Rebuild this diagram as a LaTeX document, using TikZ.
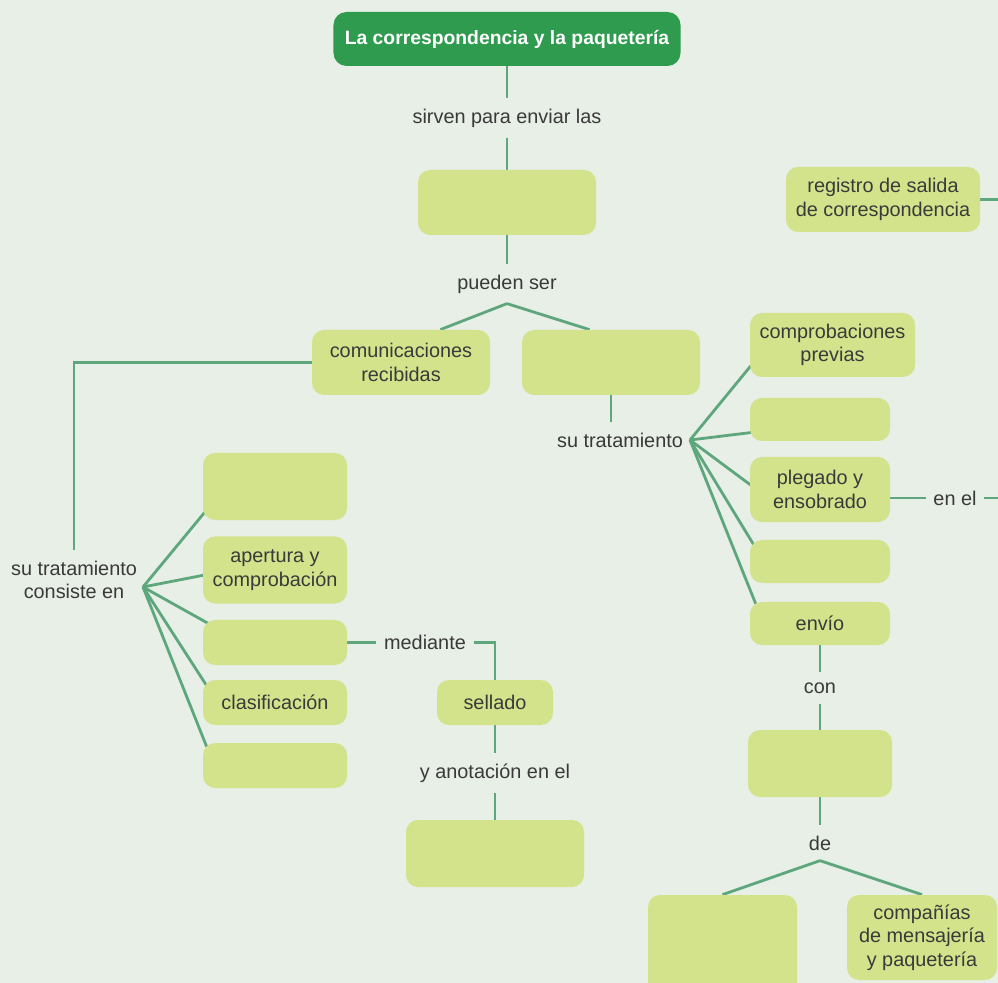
\documentclass[tikz,border=0pt]{standalone}
\usepackage{fontspec}
\setmainfont{Liberation Sans}
\usetikzlibrary{calc}

\definecolor{fondo}{HTML}{E8EFE6}
\definecolor{verdetitulo}{HTML}{2E9B4E}
\definecolor{verdecaja}{HTML}{D3E38B}
\definecolor{verdelinea}{HTML}{5EA67C}
\definecolor{gristexto}{HTML}{3A3A3A}

\pgfdeclarelayer{capafondo}
\pgfdeclarelayer{capalineas}
\pgfsetlayers{capafondo,capalineas,main}

\tikzset{
	caja/.style={fill=verdecaja, rounded corners=2.4mm, align=center, inner sep=0pt, text=gristexto, font=\fontsize{11.3}{13.5}\selectfont},
	titulo/.style={fill=verdetitulo, rounded corners=2.6mm, text=white, inner sep=0pt, font=\fontsize{11}{13}\selectfont\bfseries, minimum width=69.4mm, minimum height=10.8mm},
	etiqueta/.style={text=gristexto, align=center, inner xsep=1.5mm, inner ysep=2mm, font=\fontsize{11.3}{13.5}\selectfont},
	enlace/.style={draw=verdelinea, line width=1.6pt}
}

\begin{document}
\begin{tikzpicture}[x=0.2mm,y=-0.2mm]
		\useasboundingbox (0,0) rectangle (998,983);
		\begin{pgfonlayer}{capafondo}
			\fill[fondo] (0,0) rectangle (998,983);
		\end{pgfonlayer}
		\clip (0,0) rectangle (998,983);
		\coordinate (bordeder) at (998,0);

		% titulo y primer nivel
		\node[titulo] (tit) at (507,39) {La correspondencia y la paquetería};
		\node[etiqueta] (sirven) at (507,118) {sirven para enviar las};
		\node[caja, minimum width=35.6mm, minimum height=13mm] (comun) at (507,202.5) {};
		\node[etiqueta] (pueden) at (507,284) {pueden ser};
		\node[caja, minimum width=35.6mm, minimum height=13mm] (recib) at (401,362.5) {comunicaciones\\recibidas};
		\node[caja, minimum width=35.6mm, minimum height=13mm] (emit) at (611,362.5) {};
		\node[caja, minimum width=38.8mm, minimum height=13mm] (reg) at (883,199.5) {registro de salida\\de correspondencia};

		% rama izquierda
		\node[etiqueta, inner xsep=0pt] (tratizq) at (74,580) {su tratamiento\\consiste en};
		\coordinate (abizq) at (143,587);
		\node[caja, minimum width=28.8mm, minimum height=13.4mm] (iz1) at (275,486.5) {};
		\node[caja, minimum width=28.8mm, minimum height=13.4mm] (iz2) at (275,570) {apertura y\\comprobación};
		\node[caja, minimum width=28.8mm, minimum height=9mm] (iz3) at (275,642.5) {};
		\node[caja, minimum width=28.8mm, minimum height=9mm] (iz4) at (275,702.5) {clasificación};
		\node[caja, minimum width=28.8mm, minimum height=9mm] (iz5) at (275,765.5) {};
		\node[etiqueta] (mediante) at (425,642.5) {mediante};
		\node[caja, minimum width=23.2mm, minimum height=9mm] (sellado) at (495,702.5) {sellado};
		\node[etiqueta] (anot) at (495,773) {y anotación en el};
		\node[caja, minimum width=35.6mm, minimum height=13.4mm] (libro) at (495,853.5) {};

		% rama derecha
		\node[etiqueta, inner xsep=0pt] (tratder) at (620,440) {su tratamiento};
		\coordinate (abder) at (690,440);
		\node[caja, minimum width=33mm, minimum height=12.8mm] (de1) at (832.5,345) {comprobaciones\\previas};
		\node[caja, minimum width=28mm, minimum height=8.6mm] (de2) at (820,419.5) {};
		\node[caja, minimum width=28mm, minimum height=13mm] (de3) at (820,489.5) {plegado y\\ensobrado};
		\node[caja, minimum width=28mm, minimum height=8.6mm] (de4) at (820,561.5) {};
		\node[caja, minimum width=28mm, minimum height=8.6mm] (de5) at (820,623.5) {envío};
		\node[etiqueta] (enel) at (955,498) {en el};
		\node[etiqueta] (con) at (820,688) {con};
		\node[caja, minimum width=28.8mm, minimum height=13.4mm] (medios) at (820,763.5) {};
		\node[etiqueta] (de) at (820,843) {de};
		\node[caja, minimum width=29.8mm, minimum height=20mm] (correos) at (722.5,945) {};
		\node[caja, minimum width=30mm, minimum height=17mm] (compan) at (922,937.5) {compañías\\de mensajería\\y paquetería};

		\begin{pgfonlayer}{capalineas}
			\draw[enlace] (tit.south) -- (sirven.north);
			\draw[enlace] (sirven.south) -- (comun.north);
			\draw[enlace] (comun.south) -- (pueden.north);
			\draw[enlace] (pueden.south) -- ($(recib.north west)!0.72!(recib.north east)$);
			\draw[enlace] (pueden.south) -- ($(emit.north west)!0.38!(emit.north east)$);
			\draw[enlace] (reg.east) -- (reg.east -| bordeder);

			\draw[enlace] (recib.west) -| (tratizq.north);
			\draw[enlace] (abizq) -- ($(iz1.south west)+(2,-8)$);
			\draw[enlace] (abizq) -- ($(iz2.west)+(2,5)$);
			\draw[enlace] (abizq) -- ($(iz3.north west)+(6,4)$);
			\draw[enlace] (abizq) -- ($(iz4.north west)+(4,6)$);
			\draw[enlace] (abizq) -- ($(iz5.north west)+(4,4)$);
			\draw[enlace] (iz3.east) -- (mediante.west);
			\draw[enlace] (mediante.east) -| (sellado.north);
			\draw[enlace] (sellado.south) -- (anot.north);
			\draw[enlace] (anot.south) -- (libro.north);

			\draw[enlace] (emit.south) -- (emit.south |- tratder.north);
			\draw[enlace] (abder) -- ($(de1.south west)+(4,-15)$);
			\draw[enlace] (abder) -- ($(de2.south west)+(3,-9)$);
			\draw[enlace] (abder) -- ($(de3.west)+(3,-3)$);
			\draw[enlace] (abder) -- ($(de4.north west)+(4,5)$);
			\draw[enlace] (abder) -- ($(de5.north west)+(6,2)$);
			\draw[enlace] (de3.east |- enel) -- (enel.west);
			\draw[enlace] (enel.east) -- (enel.east -| bordeder);
			\draw[enlace] (de5.south) -- (con.north);
			\draw[enlace] (con.south) -- (medios.north);
			\draw[enlace] (medios.south) -- (de.north);
			\draw[enlace] (de.south) -- (correos.north);
			\draw[enlace] (de.south) -- (compan.north);
		\end{pgfonlayer}
	\end{tikzpicture}
\end{document}
